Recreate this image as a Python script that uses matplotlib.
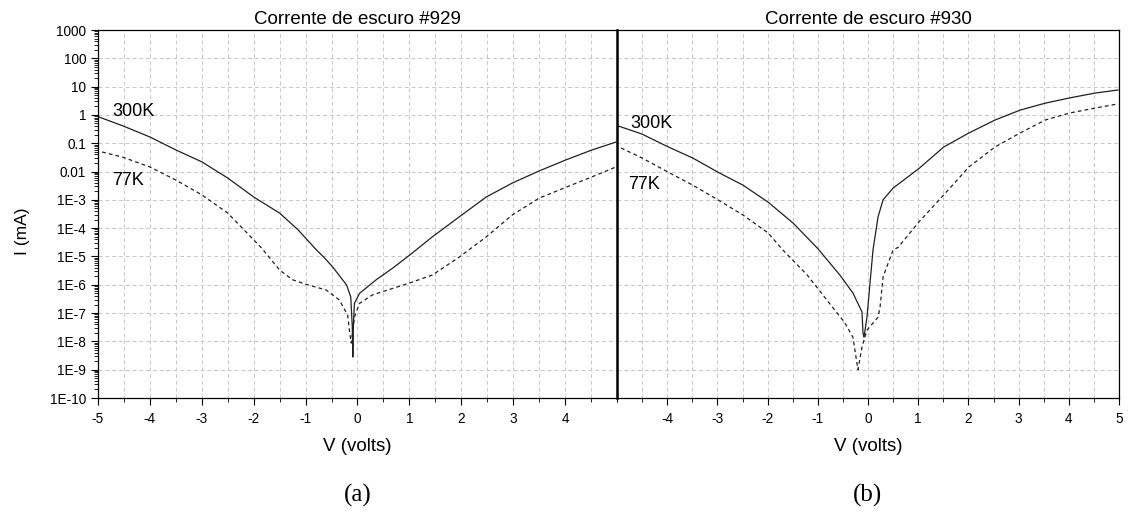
import matplotlib
matplotlib.use("Agg")
import matplotlib.pyplot as plt
from matplotlib.ticker import LogLocator, MultipleLocator, NullFormatter

plt.rcParams["font.family"] = ["Liberation Sans", "DejaVu Sans"]

# 929 sample
v929_300 = [-5, -4.52, -4.0, -3.5, -3.0, -2.5, -2.0, -1.5, -1.15, -0.79, -0.63, -0.48, -0.21,
            -0.13, -0.10, -0.09, -0.08, -0.06, 0.04, 0.36, 0.68, 1.0, 1.44, 1.96, 2.48, 2.98,
            3.5, 4.02, 4.52, 4.98]
i929_300 = [0.87, 0.41, 0.166, 0.058, 0.022, 5.9e-3, 1.26e-3, 3.4e-4, 8.9e-5, 1.7e-5, 8.7e-6,
            4.3e-6, 9.8e-7, 3.7e-7, 3.2e-8, 2.8e-9, 3.2e-8, 2.2e-7, 5.0e-7, 1.5e-6, 3.9e-6,
            1.1e-5, 4.9e-5, 2.5e-4, 1.26e-3, 3.9e-3, 0.0105, 0.026, 0.058, 0.11]
v929_77 = [-4.92, -4.52, -4.0, -3.5, -3.0, -2.5, -2.13, -1.85, -1.5, -1.25, -1.0, -0.6, -0.35,
           -0.19, -0.15, -0.12, -0.09, -0.06, 0.04, 0.29, 1.0, 1.44, 1.96, 2.48, 2.98, 3.5,
           4.02, 4.52, 4.98]
i929_77 = [0.049, 0.032, 0.0145, 5.0e-3, 1.5e-3, 3.4e-4, 6.8e-5, 2.0e-5, 3.3e-6, 1.5e-6,
           1.05e-6, 6.5e-7, 2.9e-7, 8.5e-8, 2.0e-8, 8.7e-9, 2.5e-8, 7.2e-8, 2.2e-7, 4.4e-7,
           1.15e-6, 2.2e-6, 9.5e-6, 4.9e-5, 2.9e-4, 1.15e-3, 2.8e-3, 6.5e-3, 0.0145]

# 930 sample
v930_300 = [-4.98, -4.5, -3.98, -3.49, -2.99, -2.49, -1.99, -1.49, -1.0, -0.56, -0.3, -0.12,
            -0.1, -0.08, -0.02, 0.04, 0.10, 0.2, 0.3, 0.5, 1.02, 1.51, 2.01, 2.53, 3.03, 3.53,
            4.02, 4.52, 4.98]
i930_300 = [0.41, 0.21, 0.074, 0.030, 9.5e-3, 3.3e-3, 8.3e-4, 1.5e-4, 1.9e-5, 2.2e-6, 5.1e-7,
            1.1e-7, 2.0e-8, 1.4e-8, 7.2e-8, 1.15e-6, 1.7e-5, 2.5e-4, 1.0e-3, 2.6e-3, 0.013,
            0.074, 0.23, 0.66, 1.48, 2.6, 4.0, 5.9, 7.6]
v930_77 = [-4.92, -4.5, -3.98, -3.49, -2.99, -2.49, -1.99, -1.71, -1.21, -0.82, -0.46, -0.3,
           -0.2, -0.12, -0.02, 0.2, 0.24, 0.3, 0.5, 0.6, 1.02, 1.51, 2.01, 2.53, 3.03, 3.53,
           4.02, 4.52, 4.98]
i930_77 = [0.068, 0.030, 9.5e-3, 3.3e-3, 1.0e-3, 2.9e-4, 6.8e-5, 1.8e-5, 2.2e-6, 2.9e-7,
           4.5e-8, 1.4e-8, 1.0e-9, 6.3e-9, 2.5e-8, 7.2e-8, 1.6e-7, 1.9e-6, 1.7e-5, 2.1e-5,
           1.7e-4, 1.5e-3, 0.0145, 0.074, 0.23, 0.66, 1.17, 1.74, 2.45]

ytick_vals = [1e3, 1e2, 1e1, 1, 0.1, 0.01, 1e-3, 1e-4, 1e-5, 1e-6, 1e-7, 1e-8, 1e-9, 1e-10]
ytick_labels = ["1000", "100", "10", "1", "0.1", "0.01", "1E-3", "1E-4", "1E-5", "1E-6",
                "1E-7", "1E-8", "1E-9", "1E-10"]

W, H = 1141, 517
fig = plt.figure(figsize=(W / 100, H / 100), dpi=100)
ax1 = fig.add_axes([98 / W, 1 - 398 / H, 519 / W, 368 / H])
ax2 = fig.add_axes([617 / W, 1 - 398 / H, 502 / W, 368 / H])

panels = [
    (ax1, v929_300, i929_300, v929_77, i929_77, "Corrente de escuro #929", range(-5, 5),
     "(a)", [(-4.73, 1.3, "300K"), (-4.73, 5.0e-3, "77K")]),
    (ax2, v930_300, i930_300, v930_77, i930_77, "Corrente de escuro #930", range(-4, 6),
     "(b)", [(-4.74, 0.5, "300K"), (-4.78, 3.6e-3, "77K")]),
]

for ax, vs, is_, vd, id_, title, xt, tag, labels in panels:
    ax.set_yscale("log")
    ax.set_xlim(-5, 5)
    ax.set_ylim(1e-10, 1e3)
    ax.set_xticks(list(xt))
    ax.set_xticklabels([str(t) for t in xt])
    ax.xaxis.set_minor_locator(MultipleLocator(0.5))
    ax.set_yticks(ytick_vals)
    ax.yaxis.set_minor_locator(LogLocator(base=10, subs=range(2, 10), numticks=30))
    ax.yaxis.set_minor_formatter(NullFormatter())
    ax.grid(True, which="major", color="#c8c8c8", linestyle=(0, (4, 3)), linewidth=0.7)
    ax.grid(True, which="minor", axis="x", color="#c8c8c8", linestyle=(0, (4, 3)), linewidth=0.7)
    ax.tick_params(which="major", direction="out", length=5, width=0.8, labelsize=9.8,
                   colors="black")
    ax.tick_params(which="minor", direction="out", length=3, width=0.6)
    ax.tick_params(axis="x", which="major", pad=5)
    ax.plot(vs, is_, color="#202020", linewidth=0.9)
    ax.plot(vd, id_, color="#202020", linewidth=0.9, linestyle=(0, (3, 2.5)))
    for x, y, s in labels:
        ax.text(x, y, s, fontsize=13, va="center", ha="left")
    ax.set_title(title, fontsize=13.5, pad=4)
    ax.set_xlabel("V (volts)", fontsize=13.5, labelpad=9)
    for sp in ax.spines.values():
        sp.set_linewidth(0.9)
    ax.text(0.5, -0.265, tag, transform=ax.transAxes, ha="center", va="center",
            fontsize=18, family=["Liberation Serif", "DejaVu Serif"])

ax1.set_yticklabels(ytick_labels)
ax1.spines["right"].set_visible(False)
ax2.set_yticks(ytick_vals)
ax2.tick_params(axis="y", which="both", left=False, labelleft=False)
ax2.spines["left"].set_linewidth(1.8)

fig.text(22 / W, 1 - 231 / H, "I (mA)", rotation=90, ha="center", va="center", fontsize=12.5)

fig.savefig("out.png", dpi=100)
